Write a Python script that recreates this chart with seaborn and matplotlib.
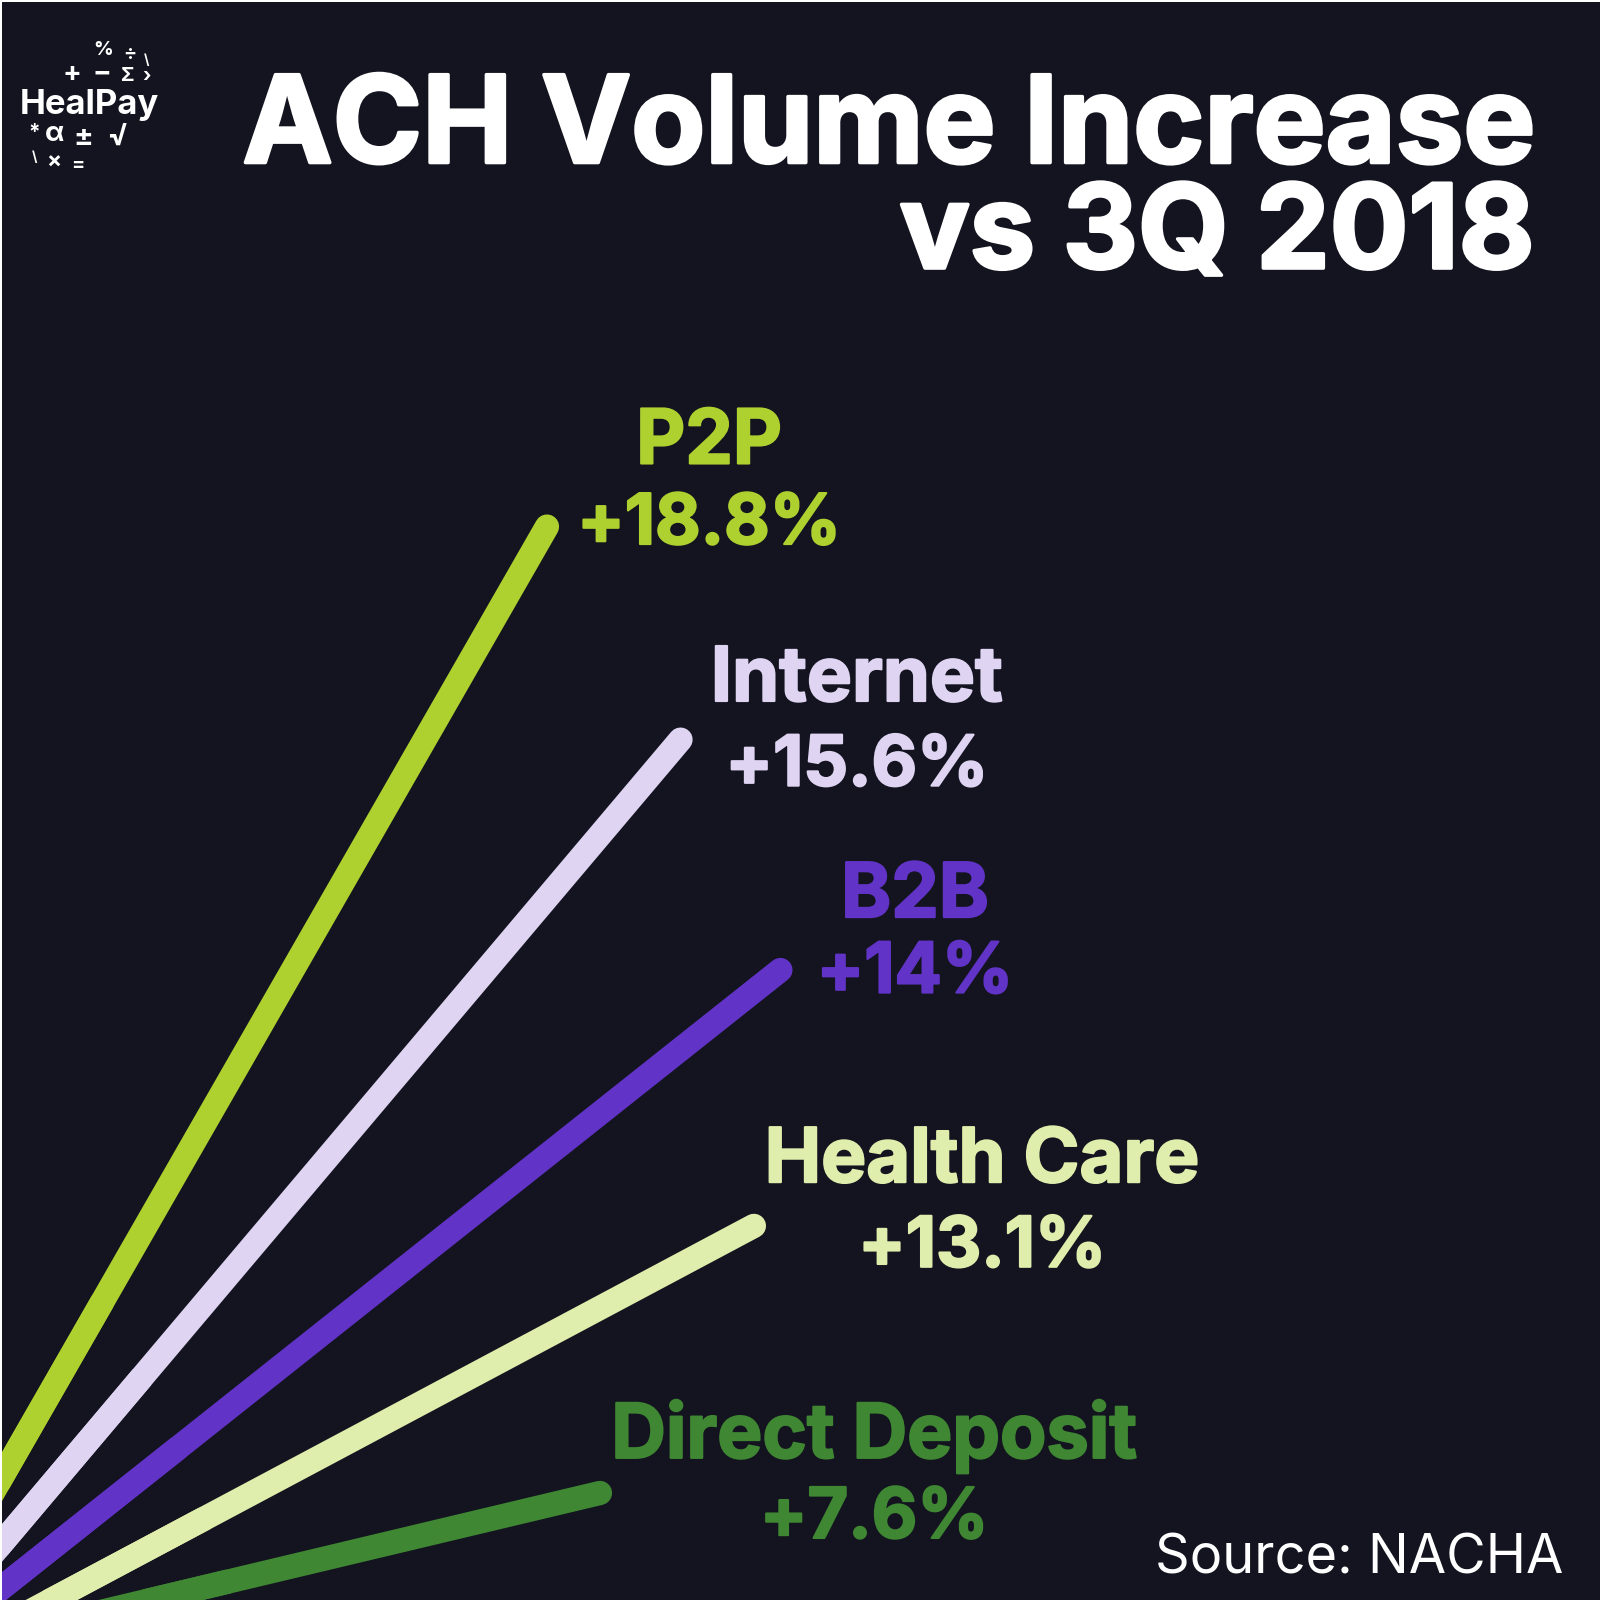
import matplotlib
matplotlib.use("Agg")
import matplotlib.pyplot as plt
import matplotlib.patheffects as pe
import numpy as np
import seaborn as sns
import pandas as pd

categories = ["Direct Deposit", "Health Care", "B2B", "Internet", "P2P"]
labels = ["+7.6%", "+13.1%", "+14%", "+15.6%", "+18.8%"]
start_x = [-30, -30, -30, -30, -30]
start_y = [-42, -42, -12, 20, 68]
end_x = [587, 738, 764, 666, 535]
end_y = [105, 367, 618, 844, 1053]
colors = ["#3F8733", "#DFEEAC", "#6133C7", "#DFD5F3", "#AFD130"]
label_x = [856, 962, 896, 839, 694]
name_y = [160, 429, 689, 901, 1134]
value_y = [79, 345, 614, 817, 1054]
BG = "#13141F"

sns.set_theme(style="white", rc={"axes.facecolor": BG, "figure.facecolor": "white"})
plt.rcParams["font.family"] = ["Inter", "DejaVu Sans"]
fig = plt.figure(figsize=(16, 16), dpi=100)
ax = fig.add_axes([0.001, 0, 0.999, 0.999])
ax.add_patch(plt.Rectangle((0, 0), 1568, 1568, color=BG, zorder=0))
rows = []
for c, x0, y0, x1, y1 in zip(categories, start_x, start_y, end_x, end_y):
    rows += [dict(cat=c, x=x0, y=y0), dict(cat=c, x=x1, y=y1)]
df = pd.DataFrame(rows)
sns.lineplot(data=df, x="x", y="y", hue="cat", hue_order=categories, palette=colors,
             estimator=None, sort=False, lw=17.5, solid_capstyle="round", legend=False, ax=ax)
ax.axis("off")
ax.set_xlim(0, 1568)
ax.set_ylim(0, 1568)

# Stroked lines get cut (and capped) at the canvas edge, so the part of each
# line that leaves the canvas is filled in along the same data segment.
half_width = 11.9
for x0, y0, x1, y1, col in zip(start_x, start_y, end_x, end_y, colors):
    d = np.array([x1 - x0, y1 - y0], float)
    d /= np.hypot(*d)
    n = np.array([-d[1], d[0]]) * half_width
    a, b = np.array([x0, y0], float), np.array([x0, y0], float) + d * 260
    poly = np.array([a + n, b + n, b - n, a - n])
    ax.fill(poly[:, 0], poly[:, 1], color=col, lw=0, zorder=3)

def heavy(t, col, w):
    t.set_path_effects([pe.withStroke(linewidth=w, foreground=col)])

for c, v, lx, ny, vy, col in zip(categories, labels, label_x, name_y, value_y, colors):
    heavy(ax.text(lx, ny, c, color=col, ha="center", va="center", fontsize=54.5, fontweight="bold"), col, 1.5)
    heavy(ax.text(lx, vy, v, color=col, ha="center", va="center", fontsize=50.5, fontweight="bold"), col, 1.5)
heavy(ax.text(1504, 1441, "ACH Volume Increase", color="white", ha="right", va="center", fontsize=87, fontweight="bold"), "white", 2.5)
heavy(ax.text(1504, 1337, "vs 3Q 2018", color="white", ha="right", va="center", fontsize=84, fontweight="bold"), "white", 2.5)
ax.text(1532, 40, "Source: NACHA", color="white", ha="right", va="center", fontsize=39)
ax.text(86, 1467, "HealPay", color="white", ha="center", va="center", fontsize=25, fontweight="bold")
sym = [("%",100,1521,14),("÷",126,1517,14),("\\",142,1511,10),("+",69,1497,20),("−",98,1497,20),
       ("Σ",124,1495,14),("›",142,1494,14),("*",32,1439,15),("α",52,1438,20),("±",80,1435,21),
       ("√",113,1434,22),("\\",32,1416,10),("×",51,1411,16),("=",75,1408,14)]
for s, x, y, fs in sym:
    ax.text(x, y, s, color="white", ha="center", va="center", fontsize=fs, fontweight="bold")
fig.savefig("out.png", dpi=100)
